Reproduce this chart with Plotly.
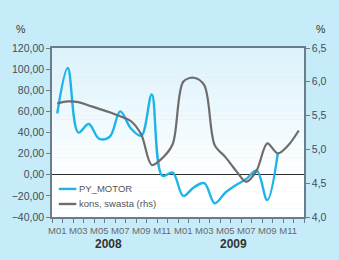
import plotly.graph_objects as go

months = ["M01","M02","M03","M04","M05","M06","M07","M08","M09","M10","M11","M12"]
years = ["2008", "2009"]
x_idx = list(range(24))
tick_labels = [m if i % 2 == 0 else "" for i, m in enumerate(months)] * 2
series_names = ["PY_MOTOR", "kons, swasta (rhs)"]

py_motor = [58, 101, 40, 48, 34, 36, 60, 44, 37, 76, -1, 2,
            -20, -12, -8, -27, -17, -10, -4, 4, -24, 20]
kons_swasta = [5.68, 5.71, 5.70, 5.65, 5.60, 5.55, 5.49, 5.42, 5.22, 4.77, 4.87, 5.08,
               6.00, 6.06, 5.95, 5.06, 4.89, 4.69, 4.52, 4.69, 5.09, 4.94, 5.06, 5.28]

NARROW = "Liberation Sans Narrow, Arial Narrow, Liberation Sans, Arial"
REG = "Liberation Sans, Arial"
AXC = "#6b7d88"
BLUE = "#1db4e8"
GRAY = "#6d6d6d"

fig = go.Figure()
fig.add_trace(go.Scatter(x=x_idx[:len(py_motor)], y=py_motor, name=series_names[0],
                         mode="lines", line=dict(color=BLUE, width=2.4, shape="spline", smoothing=1)))
fig.add_trace(go.Scatter(x=x_idx, y=kons_swasta, name=series_names[1], yaxis="y2",
                         mode="lines", line=dict(color=GRAY, width=2.2, shape="spline", smoothing=0.9)))

# gradient background for plot area
shapes = []
n = 40
top = (220, 242, 251)
for i in range(n):
    f = i / n
    t = min(1.0, f / 0.75)
    c = tuple(int(round(top[k] + (255 - top[k]) * t)) for k in range(3))
    shapes.append(dict(type="rect", xref="paper", yref="paper", x0=0, x1=1,
                       y0=1 - (i + 1) / n, y1=1 - i / n + 0.001, line=dict(width=0),
                       fillcolor="rgb(%d,%d,%d)" % c, layer="below"))

# manual legend (short line samples)
leg_y = [0.166, 0.077]
for name, col, yy in zip(series_names, [BLUE, GRAY], leg_y):
    shapes.append(dict(type="line", xref="paper", yref="paper", x0=0.027, x1=0.0965,
                       y0=yy, y1=yy, line=dict(color=col, width=2.4)))

annotations = [
    dict(text="%", xref="paper", yref="paper", x=-0.124, y=1.115, showarrow=False,
         font=dict(family=REG, size=10.5, color="#333"), xanchor="center", yanchor="middle"),
    dict(text="%", xref="paper", yref="paper", x=1.066, y=1.115, showarrow=False,
         font=dict(family=REG, size=10.5, color="#333"), xanchor="center", yanchor="middle"),
    dict(text="<b>%s</b>" % years[0], xref="x", yref="paper", x=4.85, y=-0.16, showarrow=False,
         font=dict(family=NARROW, size=12, color="#333"), xanchor="center", yanchor="middle"),
    dict(text="<b>%s</b>" % years[1], xref="x", yref="paper", x=16.75, y=-0.16, showarrow=False,
         font=dict(family=NARROW, size=12, color="#333"), xanchor="center", yanchor="middle"),
]
for name, yy in zip(series_names, leg_y):
    annotations.append(dict(text=name, xref="paper", yref="paper", x=0.098, y=yy, showarrow=False,
                            xanchor="left", yanchor="middle",
                            font=dict(family=NARROW, size=9.5, color="#555")))

fig.update_layout(
    width=339, height=260,
    margin=dict(l=47, r=33, t=48, b=43),
    paper_bgcolor="#c6ecf9",
    plot_bgcolor="rgba(0,0,0,0)",
    separators=",.",
    showlegend=False,
    shapes=shapes,
    annotations=annotations,
    xaxis=dict(range=[-0.5, 23.5], tickmode="array", tickvals=x_idx, ticktext=tick_labels,
               ticks="", showgrid=False, zeroline=False, showline=True, mirror=True,
               linecolor=AXC, linewidth=1.5, ticklabelstandoff=4, tickangle=0,
               tickfont=dict(family=NARROW, size=9.5, color="#6a6a6a"),
               minor=dict(tick0=-0.5, dtick=1, ticks="outside", ticklen=4, tickcolor=AXC, tickwidth=1.2,
                          showgrid=False)),
    yaxis=dict(range=[-40, 120], dtick=20, tickformat=".2f", ticks="outside", ticklen=4,
               tickcolor=AXC, showgrid=False, zeroline=True, zerolinecolor="#2e2e2e", zerolinewidth=1.3,
               showline=True, linecolor=AXC, linewidth=1.5,
               tickfont=dict(family=REG, size=10.5, color="#3d4f5c")),
    yaxis2=dict(range=[4.0, 6.5], dtick=0.5, tickformat=".1f", overlaying="y", side="right",
                ticks="outside", ticklen=4, tickcolor=AXC, showgrid=False, zeroline=False,
                showline=True, linecolor=AXC, linewidth=1.5,
                tickfont=dict(family=REG, size=10.5, color="#3d4f5c")),
)

fig.write_html("out.html")
